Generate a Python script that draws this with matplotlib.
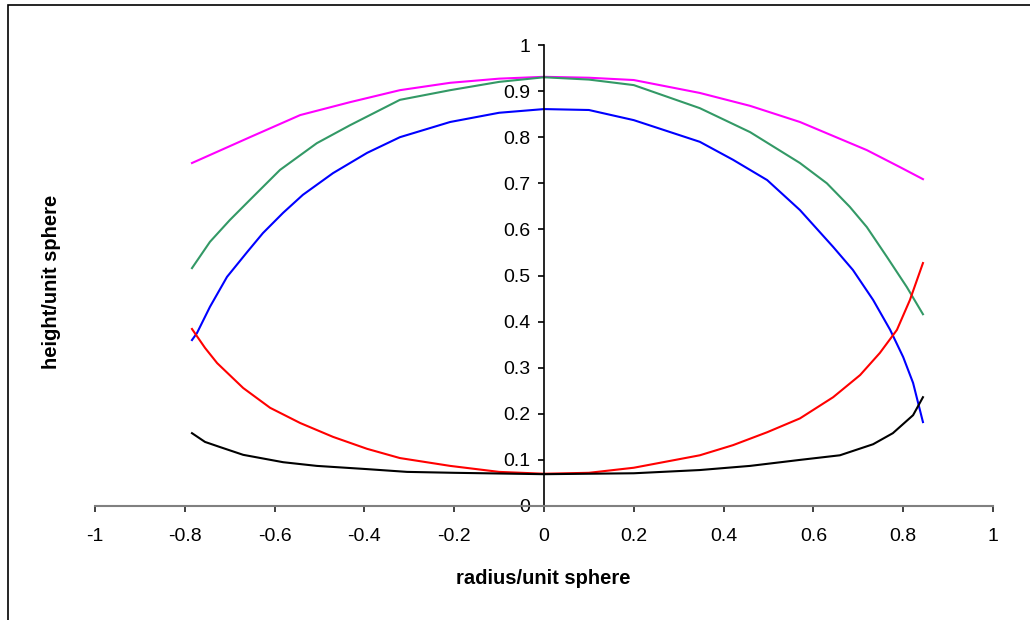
import matplotlib
matplotlib.use('Agg')
import matplotlib.pyplot as plt
from matplotlib.patches import Rectangle

plt.rcParams['font.family'] = ['Liberation Sans', 'DejaVu Sans']

# values
magenta_x = [-0.784, -0.655, -0.543, -0.432, -0.321, -0.209, -0.1, 0.0, 0.1, 0.2,
             0.347, 0.459, 0.57, 0.719, 0.793, 0.844]
magenta_y = [0.744, 0.800, 0.848, 0.876, 0.902, 0.918, 0.927, 0.931, 0.929, 0.924,
             0.896, 0.868, 0.833, 0.772, 0.735, 0.709]

green_x = [-0.784, -0.744, -0.70, -0.655, -0.588, -0.506, -0.432, -0.321, -0.209, -0.1,
           0.0, 0.1, 0.2, 0.347, 0.459, 0.57, 0.63, 0.681, 0.719, 0.764, 0.808, 0.844]
green_y = [0.516, 0.573, 0.620, 0.664, 0.729, 0.787, 0.826, 0.881, 0.902, 0.920,
           0.930, 0.925, 0.913, 0.863, 0.811, 0.744, 0.700, 0.649, 0.605, 0.540, 0.475, 0.416]

blue_x = [-0.784, -0.773, -0.744, -0.706, -0.661, -0.626, -0.581, -0.537, -0.47, -0.394,
          -0.321, -0.209, -0.1, 0.0, 0.1, 0.2, 0.347, 0.421, 0.497, 0.57, 0.644, 0.688,
          0.733, 0.771, 0.80, 0.822, 0.844]
blue_y = [0.360, 0.375, 0.432, 0.497, 0.551, 0.592, 0.636, 0.675, 0.722, 0.766,
          0.800, 0.833, 0.853, 0.861, 0.859, 0.837, 0.790, 0.751, 0.707, 0.642, 0.562, 0.512,
          0.447, 0.382, 0.323, 0.267, 0.182]

red_x = [-0.784, -0.755, -0.728, -0.67, -0.61, -0.543, -0.47, -0.394, -0.321, -0.209,
         -0.1, 0.0, 0.1, 0.2, 0.347, 0.421, 0.497, 0.57, 0.644, 0.704, 0.748, 0.786,
         0.815, 0.844]
red_y = [0.384, 0.343, 0.310, 0.256, 0.213, 0.180, 0.150, 0.124, 0.104, 0.087,
         0.074, 0.070, 0.072, 0.083, 0.110, 0.132, 0.160, 0.190, 0.236, 0.284, 0.332, 0.382,
         0.447, 0.527]

black_x = [-0.784, -0.755, -0.722, -0.67, -0.581, -0.506, -0.394, -0.305, -0.2, 0.0,
           0.2, 0.347, 0.459, 0.57, 0.659, 0.733, 0.777, 0.822, 0.844]
black_y = [0.158, 0.139, 0.128, 0.111, 0.095, 0.087, 0.080, 0.074, 0.072, 0.069,
           0.071, 0.078, 0.087, 0.100, 0.110, 0.134, 0.158, 0.197, 0.236]

series = [
    (magenta_x, magenta_y, '#FF00FF'),
    (green_x, green_y, '#339966'),
    (blue_x, blue_y, '#0000FF'),
    (red_x, red_y, '#FF0000'),
    (black_x, black_y, '#000000'),
]

x_ticks = [-1, -0.8, -0.6, -0.4, -0.2, 0, 0.2, 0.4, 0.6, 0.8, 1]
x_labels = ['-1', '-0.8', '-0.6', '-0.4', '-0.2', '0', '0.2', '0.4', '0.6', '0.8', '1']
y_ticks = [0, 0.1, 0.2, 0.3, 0.4, 0.5, 0.6, 0.7, 0.8, 0.9, 1]
y_labels = ['0', '0.1', '0.2', '0.3', '0.4', '0.5', '0.6', '0.7', '0.8', '0.9', '1']

fig = plt.figure(figsize=(10.3, 6.2), dpi=100)
ax = fig.add_axes([95 / 1030, 1 - 506 / 620, 898 / 1030, 461 / 620])

for xs, ys, col in series:
    ax.plot(xs, ys, color=col, linewidth=1.5)

ax.set_xlim(-1, 1)
ax.set_ylim(0, 1)

# excel-like axes crossing at the origin
ax.spines['left'].set_position(('data', 0))
ax.spines['bottom'].set_position(('data', 0))
ax.spines['top'].set_visible(False)
ax.spines['right'].set_visible(False)
ax.spines['bottom'].set_color('#808080')
ax.spines['bottom'].set_linewidth(1.5)
ax.spines['left'].set_color('black')
ax.spines['left'].set_linewidth(1.2)

ax.set_xticks(x_ticks)
ax.set_xticklabels(x_labels)
ax.set_yticks(y_ticks)
ax.set_yticklabels(y_labels)
ax.tick_params(axis='x', direction='out', length=4, width=1.2, color='#202020',
               labelsize=14, pad=12)
ax.tick_params(axis='y', direction='out', length=4, width=1.2, color='black',
               labelsize=14, pad=6)

fig.text(543 / 1030, 1 - 579 / 620, 'radius/unit sphere', ha='center', va='center',
         fontsize=14.5, fontweight='bold')
fig.text(52 / 1030, 1 - 282 / 620, 'height/unit sphere', ha='center', va='center',
         rotation=90, fontsize=14.5, fontweight='bold')

# chart area border (runs off the right and bottom edges)
fig.add_artist(Rectangle((8 / 1030, -0.1), 1.1, 0.1 + 1 - 5 / 620,
                         transform=fig.transFigure, fill=False,
                         edgecolor='black', linewidth=1.2))

fig.savefig('out.png', dpi=100)
